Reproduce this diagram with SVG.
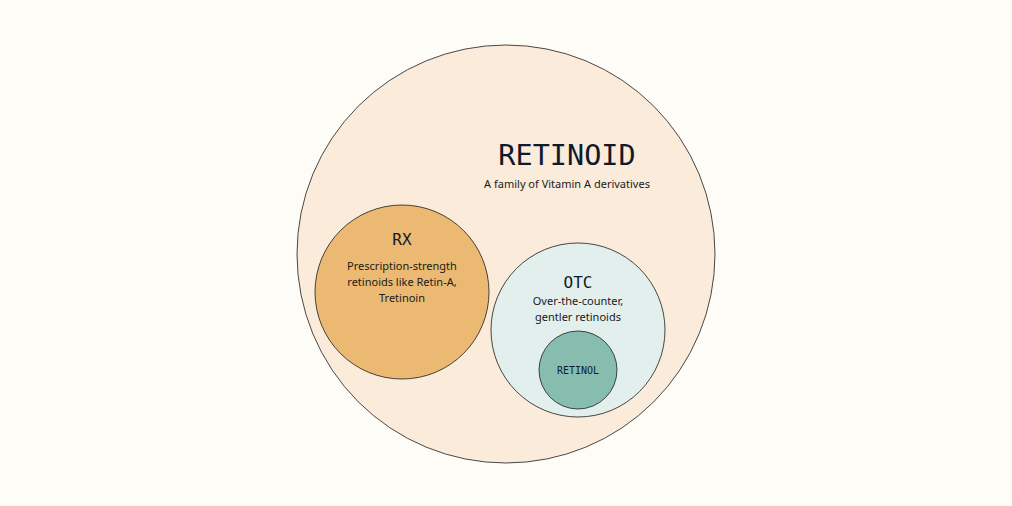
<svg xmlns="http://www.w3.org/2000/svg" width="1012" height="506" viewBox="0 0 1012 506">
<style>
.c{stroke:#1c1c1c;stroke-width:0.8}
.m{font-family:"DejaVu Sans Mono",monospace;fill:#111a2a;text-anchor:middle}
.s{font-family:"Noto Sans","Liberation Sans",sans-serif;fill:#1a1a1a;text-anchor:middle;font-size:11px}
</style>
<rect width="1012" height="506" fill="#fefcf7"/>
<g id="retinoid"><circle class="c" cx="506" cy="254" r="209" fill="#faebdb"/>
<text class="m" x="567" y="165" font-size="28.5">RETINOID</text>
<text class="s" x="567" y="188">A family of Vitamin A derivatives</text></g>
<g id="rx"><circle class="c" cx="402" cy="292" r="87" fill="#ecb972"/>
<text class="m" x="402" y="245" font-size="16">RX</text>
<text class="s" x="402" y="270">Prescription-strength</text>
<text class="s" x="402" y="286">retinoids like Retin-A,</text>
<text class="s" x="402" y="302">Tretinoin</text></g>
<g id="otc"><circle class="c" cx="578" cy="330" r="87" fill="#e2efed"/>
<text class="m" x="578" y="288" font-size="16">OTC</text>
<text class="s" x="578" y="305">Over-the-counter,</text>
<text class="s" x="578" y="321">gentler retinoids</text></g>
<g id="retinol"><circle class="c" cx="578" cy="370" r="39" fill="#86bdae"/>
<text class="m" x="578" y="374" font-size="10">RETINOL</text></g>
<g id="connectors"/>
</svg>
